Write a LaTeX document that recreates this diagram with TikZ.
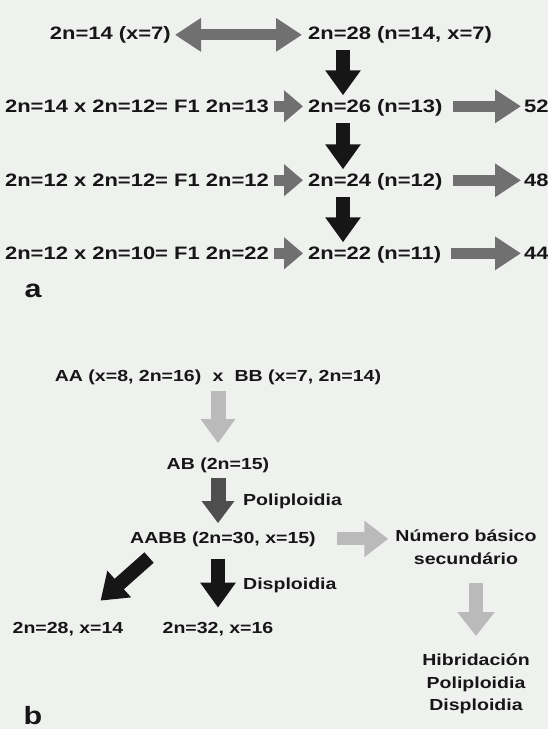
\documentclass[tikz,border=0pt]{standalone}
\usepackage{fontspec}
\newfontfamily\figfont{Liberation Sans}[FakeStretch=1.22, BoldFont=Liberation Sans Bold]
\usetikzlibrary{arrows.meta, positioning}
\definecolor{paper}{RGB}{239,241,239}
\definecolor{ink}{RGB}{22,22,22}
\definecolor{midgray}{RGB}{112,112,112}
\definecolor{palegray}{RGB}{186,186,186}
\definecolor{darkgray}{RGB}{78,78,78}
\tikzset{
  texta/.style={font=\figfont\bfseries\fontsize{18}{21}\selectfont, text=ink, inner sep=2pt},
  textb/.style={font=\figfont\bfseries\fontsize{16}{22.5}\selectfont, text=ink, inner sep=2pt, align=center},
  panel/.style={font=\figfont\bfseries\fontsize{25}{27}\selectfont, text=ink, inner sep=0pt},
  thinarr/.style={line width=11pt, -{Triangle[length=26pt, width=32pt]}},
  shortarr/.style={line width=11pt, -{Triangle[length=19pt, width=31pt]}},
  fatarr/.style={line width=14pt, -{Triangle[length=25pt, width=34pt]}}
}
\begin{document}
\begin{tikzpicture}[x=1pt, y=-1pt]
\path[use as bounding box, fill=paper] (0,0) rectangle (548,729);

\node[texta, anchor=base east] (r1l) at (173,39.5) {2n=14 (x=7)};
\node[texta, anchor=base west] (r1r) at (306,39.5) {2n=28 (n=14, x=7)};
\node[texta, anchor=base east] (r2l) at (271,112.5) {2n=14 x 2n=12= F1 2n=13};
\node[texta, anchor=base west] (r2m) at (306,112.5) {2n=26 (n=13)};
\node[texta, anchor=base west] (r2r) at (522,112.5) {52};
\node[texta, anchor=base east] (r3l) at (271,186.5) {2n=12 x 2n=12= F1 2n=12};
\node[texta, anchor=base west] (r3m) at (306,186.5) {2n=24 (n=12)};
\node[texta, anchor=base west] (r3r) at (522,186.5) {48};
\node[texta, anchor=base east] (r4l) at (271,259.5) {2n=12 x 2n=10= F1 2n=22};
\node[texta, anchor=base west] (r4m) at (306,259.5) {2n=22 (n=11)};
\node[texta, anchor=base west] (r4r) at (522,259.5) {44};
\node[panel, anchor=base] (pa) at (33,297) {a};

\draw[thinarr, {Triangle[length=26pt, width=32pt]}-{Triangle[length=26pt, width=32pt]}, draw=midgray, shorten <=2pt, shorten >=4pt] (r1l.east) -- (r1r.west);
\foreach \row in {2,3,4} {
  \draw[shortarr, draw=midgray, shorten <=3pt, shorten >=3pt] (r\row l.east) -- (r\row l.east -| r\row m.west);
  \draw[thinarr, draw=midgray, shorten <=8pt, shorten >=1pt] (r\row r.west -| r\row m.east) -- (r\row r.west);
}
\draw[fatarr, draw=ink, shorten <=5pt, shorten >=2pt] ([xshift=37pt]r1r.south west) -- ([xshift=37pt]r2m.north west);
\draw[fatarr, draw=ink, shorten <=5pt, shorten >=2pt] ([xshift=37pt]r2m.south west) -- ([xshift=37pt]r3m.north west);
\draw[fatarr, draw=ink, shorten <=5pt, shorten >=2pt] ([xshift=37pt]r3m.south west) -- ([xshift=37pt]r4m.north west);

\node[textb, anchor=base] (b1) at (218,381) {AA (x=8, 2n=16)\hspace{0.7em}x\hspace{0.7em}BB (x=7, 2n=14)};
\node[textb, anchor=base] (b2) at (218,469) {AB (2n=15)};
\node[textb, anchor=base] (b3) at (223,543) {AABB (2n=30, x=15)};
\node[textb, anchor=north] (b4) at (466,528) {Número básico\\secundário};
\node[textb, anchor=north] (b5) at (476,652) {Hibridación\\Poliploidia\\Disploidia};
\node[textb, anchor=base] (b6) at (68,633) {2n=28, x=14};
\node[textb, anchor=base] (b7) at (218,633) {2n=32, x=16};
\node[textb, anchor=base west] (lpoli) at (241,505) {Poliploidia};
\node[textb, anchor=base west] (ldisp) at (241,589) {Disploidia};
\node[panel, anchor=base] (pb) at (33,724) {b};

\draw[line width=15pt, -{Triangle[length=24pt, width=33pt]}, draw=palegray, shorten <=4pt, shorten >=12pt] (b1.south) -- (b1.south |- b2.north);
\draw[line width=15pt, -{Triangle[length=22pt, width=31pt]}, draw=darkgray, shorten <=3pt, shorten >=6pt] (b2.south) -- (b2.south |- b3.north);
\draw[fatarr, draw=ink, shorten <=10pt, shorten >=12pt] (b3.south -| b7) -- (b7.north);
\draw[fatarr, draw=ink] ([shift={(21,9)}]b3.south west) -- ([shift={(-25,-19)}]b6.north east);
\draw[line width=13pt, -{Triangle[length=24pt, width=35pt]}, draw=palegray, shorten <=19pt, shorten >=5pt] (b3.east) -- (b3.east -| b4.west);
\draw[line width=14pt, -{Triangle[length=24pt, width=36pt]}, draw=palegray, shorten <=16pt, shorten >=16pt] (b5.north |- b4.south) -- (b5.north);
\end{tikzpicture}
\end{document}
